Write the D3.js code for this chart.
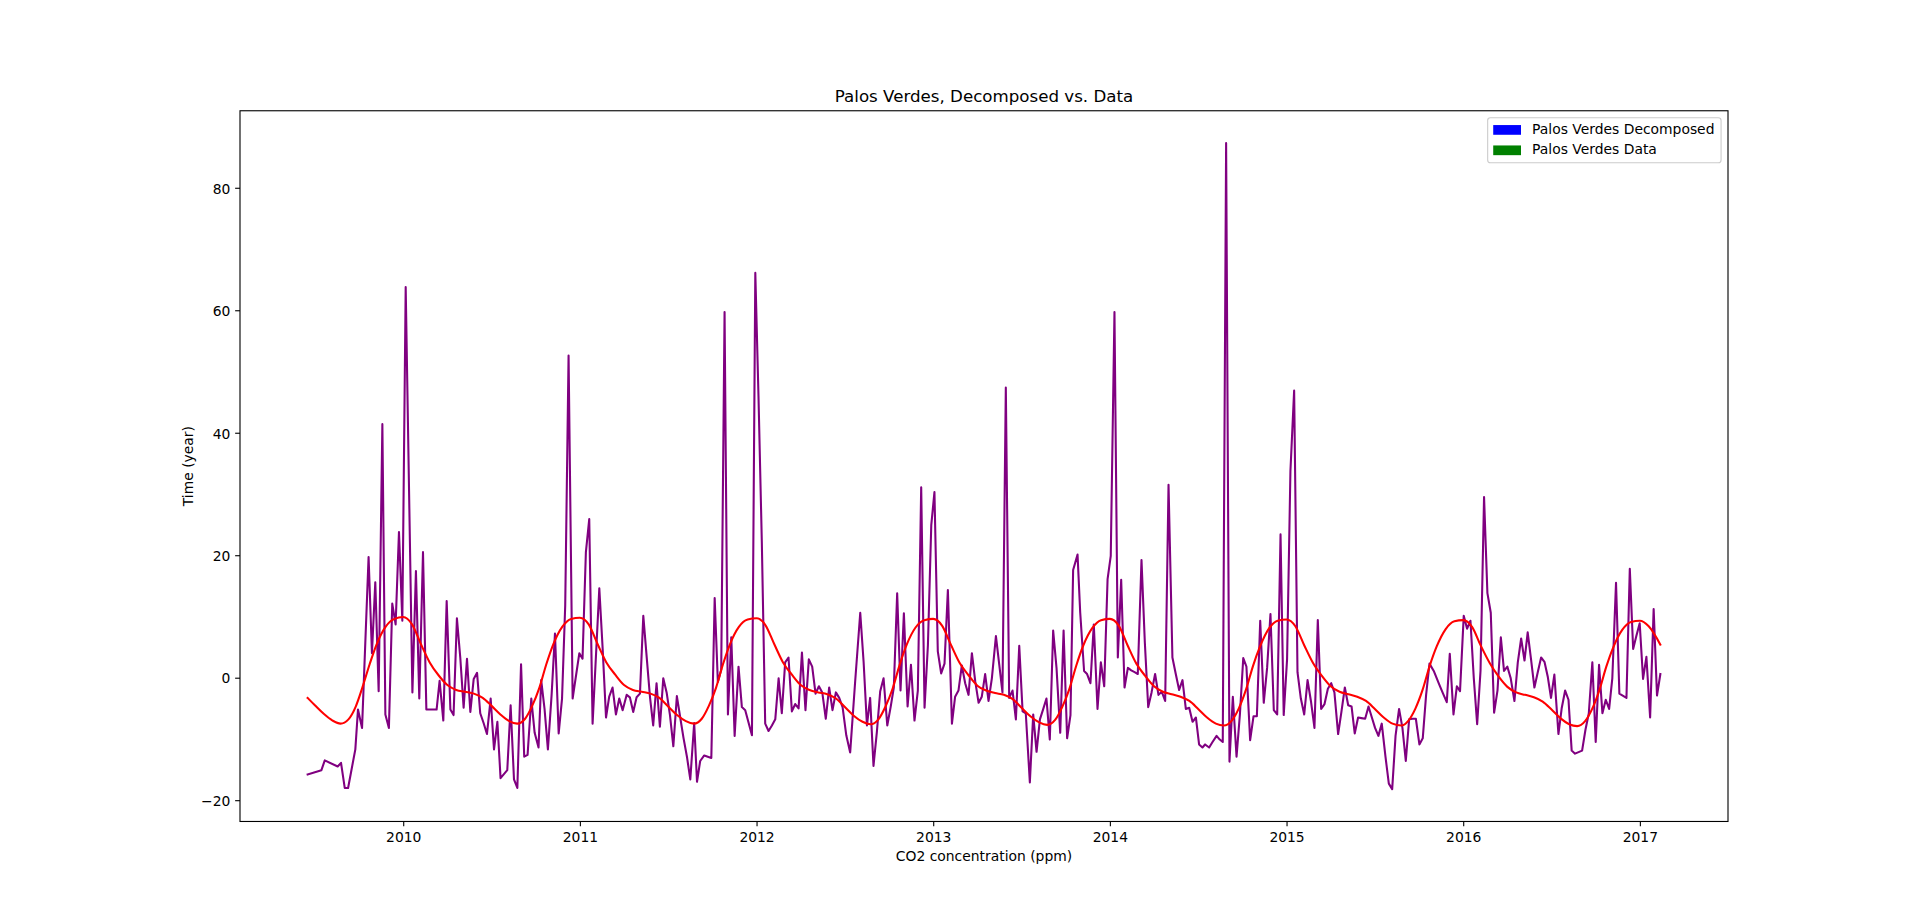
<!DOCTYPE html>
<html>
<head>
<meta charset="utf-8">
<script src="https://cdn.jsdelivr.net/npm/d3@7/dist/d3.min.js"></script>
<style>
html,body{margin:0;padding:0;background:#fff;}
svg{display:block;}
text{font-family:"DejaVu Sans",sans-serif;fill:#000;}
</style>
</head>
<body>
<svg id="chart" width="1920" height="923"></svg>
<script>
// ---------------- data ----------------
const chartTitle = "Palos Verdes, Decomposed vs. Data";
const xAxisLabel = "CO2 concentration (ppm)";
const yAxisLabel = "Time (year)";
const legendLabels = ["Palos Verdes Decomposed", "Palos Verdes Data"];
const legendColors = ["#0000ff", "#008000"];
const xTickValues = [2010, 2011, 2012, 2013, 2014, 2015, 2016, 2017];
const yTickValues = [-20, 0, 20, 40, 60, 80];

// measured data (decimal year, value) - purple line
const dataSeries = [
[2009.459,-15.8],[2009.537,-15.1],[2009.556,-13.5],[2009.629,-14.5],[2009.648,-13.9],[2009.669,-18.0],[2009.688,-18.0],[2009.729,-11.7],[2009.744,-5.2],[2009.767,-8.2],[2009.804,19.7],[2009.823,4.0],[2009.842,15.6],[2009.861,-2.2],[2009.882,41.4],[2009.899,-6.0],[2009.919,-8.2],[2009.938,12.1],[2009.957,8.7],[2009.976,23.8],[2009.995,9.3],[2010.014,63.8],[2010.052,-2.4],[2010.072,17.4],[2010.091,-3.4],[2010.112,20.5],[2010.131,-5.2],[2010.189,-5.2],[2010.206,-0.5],[2010.227,-7.0],[2010.246,12.5],[2010.267,-5.2],[2010.285,-6.1],[2010.304,9.7],[2010.323,3.3],[2010.342,-4.9],[2010.361,3.1],[2010.380,-5.6],[2010.399,-0.2],[2010.418,0.8],[2010.436,-5.8],[2010.455,-7.4],[2010.474,-9.2],[2010.495,-3.4],[2010.514,-11.7],[2010.533,-7.2],[2010.551,-16.4],[2010.589,-15.1],[2010.608,-4.5],[2010.627,-16.6],[2010.646,-18.0],[2010.667,2.2],[2010.685,-12.9],
[2010.704,-12.6],[2010.725,-3.4],[2010.744,-9.0],[2010.766,-11.4],[2010.781,-0.4],[2010.800,-5.1],[2010.819,-11.7],[2010.840,-2.8],[2010.859,7.2],[2010.880,-9.1],[2010.899,-3.4],[2010.917,11.8],[2010.936,52.6],[2010.959,-3.4],[2010.997,4.0],[2011.015,3.1],[2011.034,20.5],[2011.053,25.9],[2011.072,-7.5],[2011.110,14.6],[2011.129,4.7],[2011.148,-6.5],[2011.166,-3.1],[2011.185,-1.6],[2011.204,-6.0],[2011.223,-3.4],[2011.242,-5.3],[2011.265,-2.8],[2011.283,-3.2],[2011.302,-5.6],[2011.321,-3.2],[2011.340,-2.6],[2011.359,10.1],[2011.397,-3.2],[2011.415,-7.8],[2011.434,-0.9],[2011.453,-8.0],[2011.472,-0.1],[2011.491,-2.4],[2011.510,-6.1],[2011.529,-11.2],[2011.549,-3.0],[2011.568,-6.5],[2011.587,-9.9],[2011.606,-12.9],[2011.625,-16.6],[2011.647,-7.4],[2011.663,-17.0],[2011.681,-13.6],[2011.704,-12.7],[2011.744,-13.1],[2011.763,13.0],[2011.781,-0.7],[2011.800,1.3],[2011.819,59.7],[2011.838,-6.0],[2011.857,6.6],[2011.876,-9.5],[2011.898,1.8],[2011.917,-4.8],[2011.936,-5.3],
[2011.974,-9.4],[2011.993,66.1],[2012.011,46.0],[2012.030,22.0],[2012.049,-7.5],[2012.068,-8.7],[2012.087,-7.8],[2012.106,-6.8],[2012.125,-0.1],[2012.143,-5.8],[2012.162,2.5],[2012.181,3.3],[2012.200,-5.5],[2012.219,-4.3],[2012.238,-5.0],[2012.257,4.1],[2012.277,-5.3],[2012.296,3.0],[2012.315,1.8],[2012.334,-2.6],[2012.353,-1.4],[2012.372,-2.4],[2012.392,-6.7],[2012.411,-1.6],[2012.430,-5.3],[2012.449,-2.4],[2012.468,-3.3],[2012.487,-4.8],[2012.508,-9.4],[2012.530,-12.2],[2012.558,-0.7],[2012.587,10.6],[2012.606,2.6],[2012.625,-7.8],[2012.643,-3.3],[2012.662,-14.4],[2012.681,-8.9],[2012.700,-2.2],[2012.719,-0.1],[2012.740,-7.8],[2012.759,-4.8],[2012.777,-1.6],[2012.796,13.8],[2012.815,-2.1],[2012.834,10.5],[2012.855,-4.7],[2012.874,2.1],[2012.894,-7.0],[2012.913,-2.1],[2012.932,31.1],[2012.951,-4.9],[2012.970,5.3],[2012.989,24.9],[2013.007,30.3],[2013.026,4.3],[2013.045,0.7],[2013.064,2.3],[2013.083,14.3],[2013.106,-7.5],[2013.124,-3.1],[2013.143,-2.1],[2013.162,2.0],[2013.181,-0.9],[2013.200,-2.8],[2013.219,4.0],
[2013.238,-0.6],[2013.257,-4.1],[2013.275,-3.1],[2013.294,0.6],[2013.313,-3.8],[2013.332,-0.1],[2013.355,6.8],[2013.374,2.1],[2013.392,-2.4],[2013.411,47.4],[2013.430,-3.3],[2013.449,-2.1],[2013.468,-6.8],[2013.487,5.2],[2013.506,-5.5],[2013.524,-5.8],[2013.547,-17.1],[2013.566,-6.0],[2013.585,-12.1],[2013.604,-6.8],[2013.623,-5.1],[2013.641,-3.4],[2013.660,-10.1],[2013.679,7.7],[2013.698,1.6],[2013.719,-9.0],[2013.738,7.7],[2013.758,-9.9],[2013.777,-6.1],[2013.792,17.6],[2013.817,20.1],[2013.832,10.7],[2013.854,1.1],[2013.871,0.6],[2013.890,-0.9],[2013.909,8.7],[2013.930,-5.1],[2013.949,2.5],[2013.968,-1.4],[2013.987,16.1],[2014.005,19.9],[2014.026,59.7],[2014.045,3.3],[2014.064,16.0],[2014.083,-1.6],[2014.102,1.6],[2014.121,1.2],[2014.140,0.9],[2014.158,0.6],[2014.179,19.2],[2014.198,5.7],[2014.217,-4.8],[2014.236,-2.4],[2014.256,0.6],[2014.275,-2.8],[2014.294,-2.3],[2014.313,-3.8],[2014.332,31.5],[2014.354,3.3],[2014.373,0.6],[2014.392,-2.0],[2014.411,-0.4],[2014.430,-5.1],[2014.449,-4.9],[2014.468,-7.2],[2014.487,-6.5],[2014.505,-10.9],[2014.524,-11.4],
[2014.539,-10.9],[2014.562,-11.4],[2014.581,-10.5],[2014.604,-9.5],[2014.622,-10.1],[2014.639,-10.5],[2014.658,87.3],[2014.677,-13.7],[2014.696,-3.1],[2014.717,-12.9],[2014.736,-6.0],[2014.755,3.2],[2014.773,1.8],[2014.794,-10.2],[2014.813,-6.3],[2014.832,-6.3],[2014.851,9.3],[2014.871,-4.1],[2014.890,1.6],[2014.909,10.4],[2014.928,-5.3],[2014.947,-6.0],[2014.966,23.4],[2014.984,-6.1],[2015.003,3.0],[2015.022,33.7],[2015.043,46.9],[2015.062,0.9],[2015.081,-3.4],[2015.100,-6.0],[2015.119,-0.4],[2015.138,-3.8],[2015.158,-8.2],[2015.177,9.4],[2015.196,-5.1],[2015.215,-4.3],[2015.234,-1.8],[2015.253,-0.9],[2015.271,-2.4],[2015.292,-9.2],[2015.311,-5.5],[2015.330,-1.6],[2015.349,-4.5],[2015.368,-4.7],[2015.386,-9.1],[2015.405,-6.5],[2015.424,-6.6],[2015.445,-6.7],[2015.464,-4.7],[2015.483,-6.5],[2015.501,-8.2],[2015.520,-9.5],[2015.539,-7.5],[2015.560,-12.9],[2015.579,-17.3],[2015.598,-18.2],[2015.617,-9.5],[2015.637,-5.1],[2015.656,-8.2],[2015.675,-13.6],[2015.694,-6.8],[2015.713,-6.7],[2015.732,-6.7],[2015.752,-10.9],[2015.771,-9.9],[2015.790,-2.8],[2015.809,2.3],[2015.835,1.0],
[2015.864,-1.1],[2015.886,-2.6],[2015.907,-4.0],[2015.924,3.9],[2015.945,-6.0],[2015.964,-1.4],[2015.982,-2.2],[2016.003,10.1],[2016.022,8.0],[2016.041,9.3],[2016.060,-0.1],[2016.079,-7.6],[2016.098,1.1],[2016.118,29.5],[2016.137,13.8],[2016.156,10.6],[2016.175,-5.7],[2016.194,-2.1],[2016.213,6.6],[2016.231,1.1],[2016.250,1.8],[2016.269,-0.1],[2016.290,-3.8],[2016.309,2.5],[2016.328,6.4],[2016.347,2.8],[2016.365,7.4],[2016.384,3.0],[2016.403,-1.6],[2016.422,0.9],[2016.441,3.3],[2016.460,2.6],[2016.479,0.1],[2016.497,-3.3],[2016.516,0.5],[2016.539,-9.2],[2016.558,-4.9],[2016.577,-2.1],[2016.596,-3.6],[2016.614,-11.9],[2016.633,-12.4],[2016.673,-11.9],[2016.692,-8.5],[2016.711,-5.8],[2016.731,2.5],[2016.750,-10.5],[2016.769,2.1],[2016.788,-5.8],[2016.807,-3.6],[2016.826,-5.1],[2016.844,-0.1],[2016.865,15.5],[2016.884,-2.6],[2016.924,-3.3],[2016.943,17.8],[2016.962,4.7],[2016.980,6.8],[2016.999,8.9],[2017.018,-0.2],[2017.037,3.4],[2017.058,-6.5],[2017.078,11.2],[2017.097,-2.9],[2017.116,0.6]
];

// decomposed (seasonal) component - red line
const decomposedSeries = [
[2009.459,-3.3],[2009.50,-4.5],[2009.55,-5.9],[2009.60,-7.0],[2009.645,-7.5],[2009.69,-6.8],[2009.73,-4.8],[2009.77,-1.5],[2009.81,2.2],[2009.85,5.5],[2009.90,8.3],[2009.95,9.6],
[2010.00,9.9],[2010.05,8.7],[2010.10,5.5],[2010.15,2.5],[2010.20,0.4],[2010.25,-1.2],[2010.30,-2.0],[2010.35,-2.3],[2010.40,-2.6],[2010.45,-3.3],[2010.50,-4.6],[2010.55,-6.0],[2010.60,-7.1],[2010.645,-7.5],[2010.69,-6.7],[2010.73,-4.6],[2010.77,-1.7],[2010.81,2.2],[2010.85,5.5],[2010.90,8.3],[2010.95,9.6],
[2011.00,9.8],[2011.05,8.7],[2011.10,5.5],[2011.15,2.5],[2011.20,0.5],[2011.25,-1.2],[2011.30,-2.0],[2011.35,-2.3],[2011.40,-2.6],[2011.45,-3.3],[2011.50,-4.7],[2011.55,-6.1],[2011.60,-7.1],[2011.645,-7.5],[2011.69,-6.7],[2011.73,-4.6],[2011.77,-1.7],[2011.81,2.2],[2011.85,5.5],[2011.90,8.3],[2011.95,9.5],
[2012.00,9.7],[2012.05,8.6],[2012.10,5.5],[2012.15,2.5],[2012.20,0.5],[2012.25,-1.2],[2012.30,-2.0],[2012.35,-2.4],[2012.40,-2.7],[2012.45,-3.4],[2012.50,-4.8],[2012.55,-6.2],[2012.60,-7.2],[2012.645,-7.6],[2012.69,-6.8],[2012.73,-4.7],[2012.77,-1.8],[2012.81,2.1],[2012.85,5.4],[2012.90,8.2],[2012.95,9.4],
[2013.00,9.6],[2013.05,8.5],[2013.10,5.4],[2013.15,2.4],[2013.20,0.4],[2013.25,-1.3],[2013.30,-2.1],[2013.35,-2.5],[2013.40,-2.8],[2013.45,-3.5],[2013.50,-4.9],[2013.55,-6.3],[2013.60,-7.3],[2013.645,-7.7],[2013.69,-6.9],[2013.73,-4.8],[2013.77,-1.9],[2013.81,2.0],[2013.85,5.3],[2013.90,8.1],[2013.95,9.4],
[2014.00,9.6],[2014.05,8.5],[2014.10,5.3],[2014.15,2.3],[2014.20,0.3],[2014.25,-1.4],[2014.30,-2.3],[2014.35,-2.7],[2014.40,-3.1],[2014.45,-3.8],[2014.50,-5.1],[2014.55,-6.5],[2014.60,-7.5],[2014.645,-7.8],[2014.69,-7.0],[2014.73,-5.0],[2014.77,-2.0],[2014.81,1.9],[2014.85,5.1],[2014.90,8.0],[2014.95,9.3],
[2015.00,9.5],[2015.05,8.4],[2015.10,5.3],[2015.15,2.4],[2015.20,0.3],[2015.25,-1.4],[2015.30,-2.3],[2015.35,-2.7],[2015.40,-3.1],[2015.45,-3.8],[2015.50,-5.1],[2015.55,-6.5],[2015.60,-7.5],[2015.65,-7.8],[2015.69,-7.0],[2015.73,-5.0],[2015.77,-2.0],[2015.81,1.9],[2015.85,5.1],[2015.90,7.9],[2015.95,9.2],
[2016.00,9.4],[2016.05,8.3],[2016.10,5.2],[2016.15,2.4],[2016.20,0.2],[2016.25,-1.5],[2016.30,-2.4],[2016.35,-2.8],[2016.40,-3.2],[2016.45,-3.9],[2016.50,-5.2],[2016.55,-6.6],[2016.60,-7.6],[2016.645,-7.9],[2016.69,-7.1],[2016.73,-5.1],[2016.77,-2.1],[2016.81,1.8],[2016.85,5.0],[2016.90,7.8],[2016.95,9.1],
[2017.00,9.3],[2017.05,8.4],[2017.116,5.4]
];

// ---------------- layout (matplotlib-like) ----------------
const W = 1920, H = 923;
const axL = 240, axR = 1728, axT = 110.76, axB = 821.47;
const fs = 13.89;       // 10pt
const tickLen = 4.86, tickPad = 4.86;

const svg = d3.select("#chart");
svg.append("rect").attr("width", W).attr("height", H).attr("fill", "#fff");

const allX = dataSeries.map(d => d[0]).concat(decomposedSeries.map(d => d[0]));
const allY = dataSeries.map(d => d[1]).concat(decomposedSeries.map(d => d[1]));
const [x0, x1] = d3.extent(allX);
const [y0, y1] = d3.extent(allY);
const mx = (x1 - x0) * 0.05, my = (y1 - y0) * 0.05;

const x = d3.scaleLinear().domain([x0 - mx, x1 + mx]).range([axL, axR]);
const y = d3.scaleLinear().domain([y0 - my, y1 + my]).range([axB, axT]);

// clip
svg.append("defs").append("clipPath").attr("id", "clip")
  .append("rect").attr("x", axL).attr("y", axT).attr("width", axR - axL).attr("height", axB - axT);

const line = d3.line().x(d => x(d[0])).y(d => y(d[1]));
const smooth = d3.line().x(d => x(d[0])).y(d => y(d[1])).curve(d3.curveMonotoneX);

const plot = svg.append("g").attr("clip-path", "url(#clip)");
plot.append("path").datum(dataSeries)
  .attr("d", line).attr("fill", "none").attr("stroke", "#800080")
  .attr("stroke-width", 2.08).attr("stroke-linejoin", "round").attr("stroke-linecap", "square");
plot.append("path").datum(decomposedSeries)
  .attr("d", smooth).attr("fill", "none").attr("stroke", "#ff0000")
  .attr("stroke-width", 2.08).attr("stroke-linejoin", "round").attr("stroke-linecap", "square");

// axes
const xAxis = d3.axisBottom(x).tickValues(xTickValues).tickFormat(d3.format("d"))
  .tickSize(tickLen).tickPadding(tickPad);
const gx = svg.append("g").attr("transform", `translate(0,${axB})`).call(xAxis);
gx.select(".domain").remove();
gx.selectAll(".tick line").attr("stroke", "#000").attr("stroke-width", 1.11);
gx.selectAll(".tick text").attr("font-size", fs).attr("font-family", "DejaVu Sans")
  .attr("dy", null).attr("y", 842 - axB).attr("fill", "#000");

const yAxis = d3.axisLeft(y).tickValues(yTickValues)
  .tickFormat(d => d < 0 ? "\u2212" + Math.abs(d) : String(d))
  .tickSize(tickLen).tickPadding(tickPad);
const gy = svg.append("g").attr("transform", `translate(${axL},0)`).call(yAxis);
gy.select(".domain").remove();
gy.selectAll(".tick line").attr("stroke", "#000").attr("stroke-width", 1.11);
gy.selectAll(".tick text").attr("font-size", fs).attr("font-family", "DejaVu Sans")
  .attr("dy", "0.38em").attr("fill", "#000");

// spines
svg.append("rect").attr("x", axL).attr("y", axT).attr("width", axR - axL).attr("height", axB - axT)
  .attr("fill", "none").attr("stroke", "#000").attr("stroke-width", 1.11);

// title and labels
svg.append("text").attr("x", (axL + axR) / 2).attr("y", 102.4)
  .attr("text-anchor", "middle").attr("font-size", 16.67).text(chartTitle);
svg.append("text").attr("x", (axL + axR) / 2).attr("y", 860.8)
  .attr("text-anchor", "middle").attr("font-size", fs).text(xAxisLabel);
svg.append("text").attr("transform", `translate(192.5,${(axT + axB) / 2}) rotate(-90)`)
  .attr("text-anchor", "middle").attr("font-size", fs).text(yAxisLabel);

// legend
const legW = 233.4, legH = 45.0;
const legX = axR - 6.94 - legW, legY = axT + 6.94;
const leg = svg.append("g");
leg.append("rect").attr("x", legX).attr("y", legY).attr("width", legW).attr("height", legH)
  .attr("rx", 2.78).attr("ry", 2.78)
  .attr("fill", "#fff").attr("fill-opacity", 0.8).attr("stroke", "#cccccc").attr("stroke-width", 1.11);
legendLabels.forEach((lab, i) => {
  const rowTop = legY + 5.56 + i * (13.45 + 6.94);
  leg.append("rect").attr("x", legX + 5.56).attr("y", rowTop + 1.8)
    .attr("width", 27.78).attr("height", 9.72).attr("fill", legendColors[i]);
  leg.append("text").attr("x", legX + 5.56 + 27.78 + 11.11).attr("y", rowTop + 10.56)
    .attr("font-size", fs).text(lab);
});
</script>
</body>
</html>
